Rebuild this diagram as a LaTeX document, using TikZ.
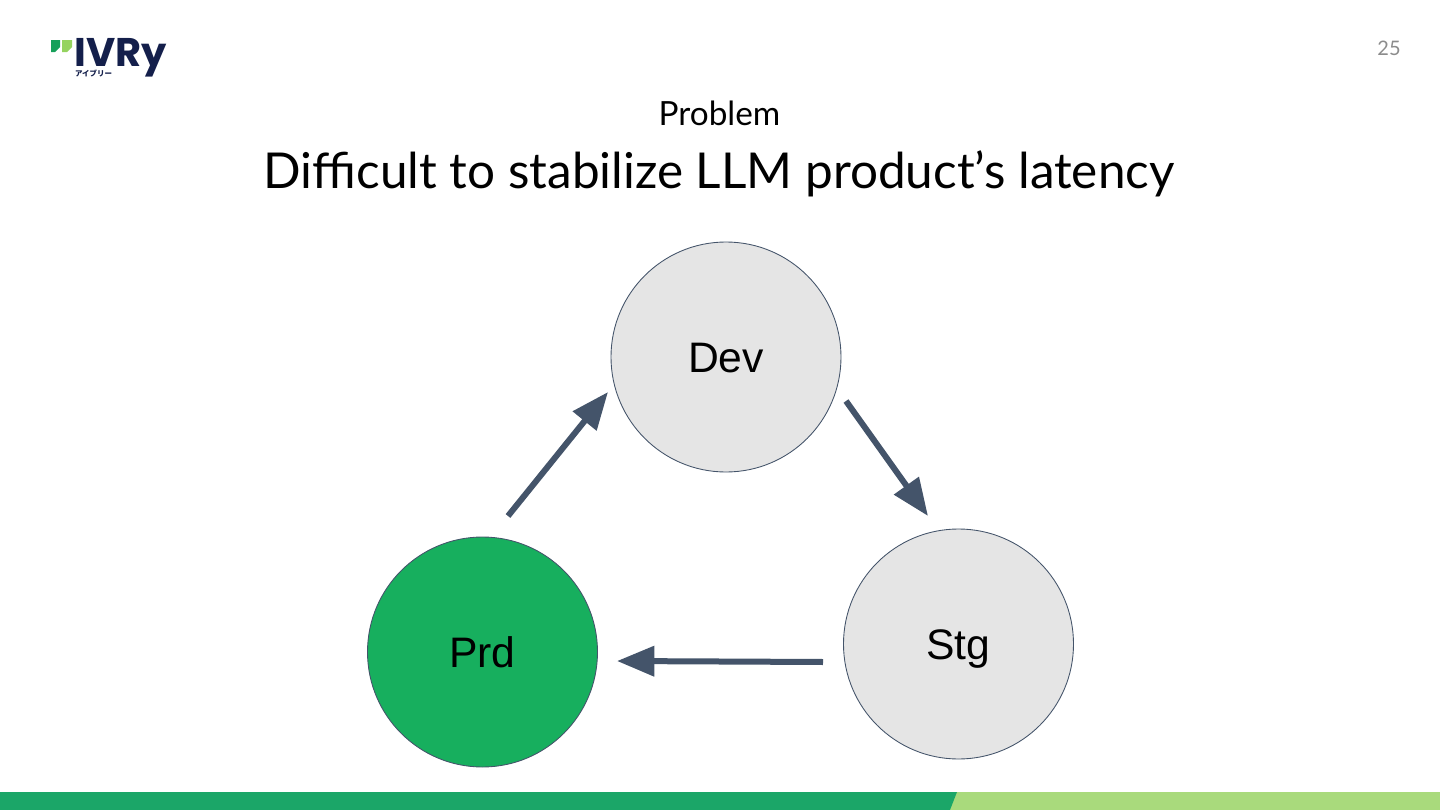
\documentclass[tikz,border=0pt]{standalone}
\usepackage{fontspec}
\setmainfont{Lato}
\newfontfamily\labelfont{Liberation Sans}
\newfontfamily\logofont{Poppins}
\newfontfamily\cjkfont{Noto Sans CJK JP}
\usetikzlibrary{arrows.meta,calc,positioning}
\definecolor{darkslate}{HTML}{44546A}
\definecolor{stagegray}{HTML}{E5E5E5}
\definecolor{prodgreen}{HTML}{17AF5E}
\definecolor{bardark}{HTML}{1BA668}
\definecolor{barlight}{HTML}{A9DA7C}
\definecolor{logonavy}{HTML}{141F4B}
\definecolor{logodark}{HTML}{16A05A}
\definecolor{logolight}{HTML}{95D35F}
\tikzset{
  stage/.style={draw=darkslate,line width=0.65pt,shape=circle,minimum size=172.5pt,inner sep=0,
    font=\labelfont\fontsize{32}{36}\selectfont,text=black,text height=23pt,text depth=0pt},
  flow/.style={draw=darkslate,line width=4.5pt,-{Triangle[length=28pt,width=22pt]}},
}
\begin{document}
\begin{tikzpicture}[x=0.75pt,y=-0.75pt]
          \useasboundingbox (0,0) rectangle (1440,810);
          % Footer bar
          \fill[barlight] (950,792) -- (957,792) -- (1440,792) -- (1440,810) -- (950,810) -- cycle;
          \fill[bardark] (0,792) -- (957,792) -- (950,810) -- (0,810) -- cycle;
          % Logo
          \fill[logodark] (51,40) -- (60,40) -- (60,47) -- (55,52) -- (51,52) -- cycle;
          \fill[logolight] (62,40) -- (72,40) -- (72,47) -- (67,52) -- (62,52) -- cycle;
          \node[text=logonavy,font=\logofont\bfseries\fontsize{30}{30}\selectfont,inner sep=0,text depth=0pt,anchor=base] (logo) at (120.5,66.5) {IVRy};
          \node[text=logonavy,font=\cjkfont\bfseries\fontsize{5.6}{6}\selectfont,inner sep=0] (logosub) at (93.5,73) {アイブリー};
          % Page number and titles
          \node[text=black!45,font=\fontsize{15}{18}\selectfont,inner sep=0] (page) at (1389,48) {25};
          \node[font=\fontsize{25}{30}\selectfont,inner sep=0] (kicker) at (719.5,113) {Problem};
          \node[font=\fontsize{37.1}{44}\selectfont,inner sep=0] (title) at (719,174) {Difficult to stabilize LLM product’s latency};
          % The three stages
          \node[stage,fill=stagegray] (dev) at (726,357) {Dev};
          \node[stage,fill=stagegray] (stg) at (958.5,644) {Stg};
          \node[stage,fill=prodgreen] (prd) at (482.5,652) {Prd};
          % Arrows stop short of the circles
          \coordinate (devout) at (846,401);
          \coordinate (stgin) at (928,516);
          \coordinate (stgout) at (823,662);
          \coordinate (prdin) at (617,661);
          \coordinate (prdout) at (508,516);
          \coordinate (devin) at (608,392);
          \draw[flow] (devout) -- (stgin);
          \draw[flow] (stgout) -- (prdin);
          \draw[flow] (prdout) -- (devin);
        \end{tikzpicture}
\end{document}
